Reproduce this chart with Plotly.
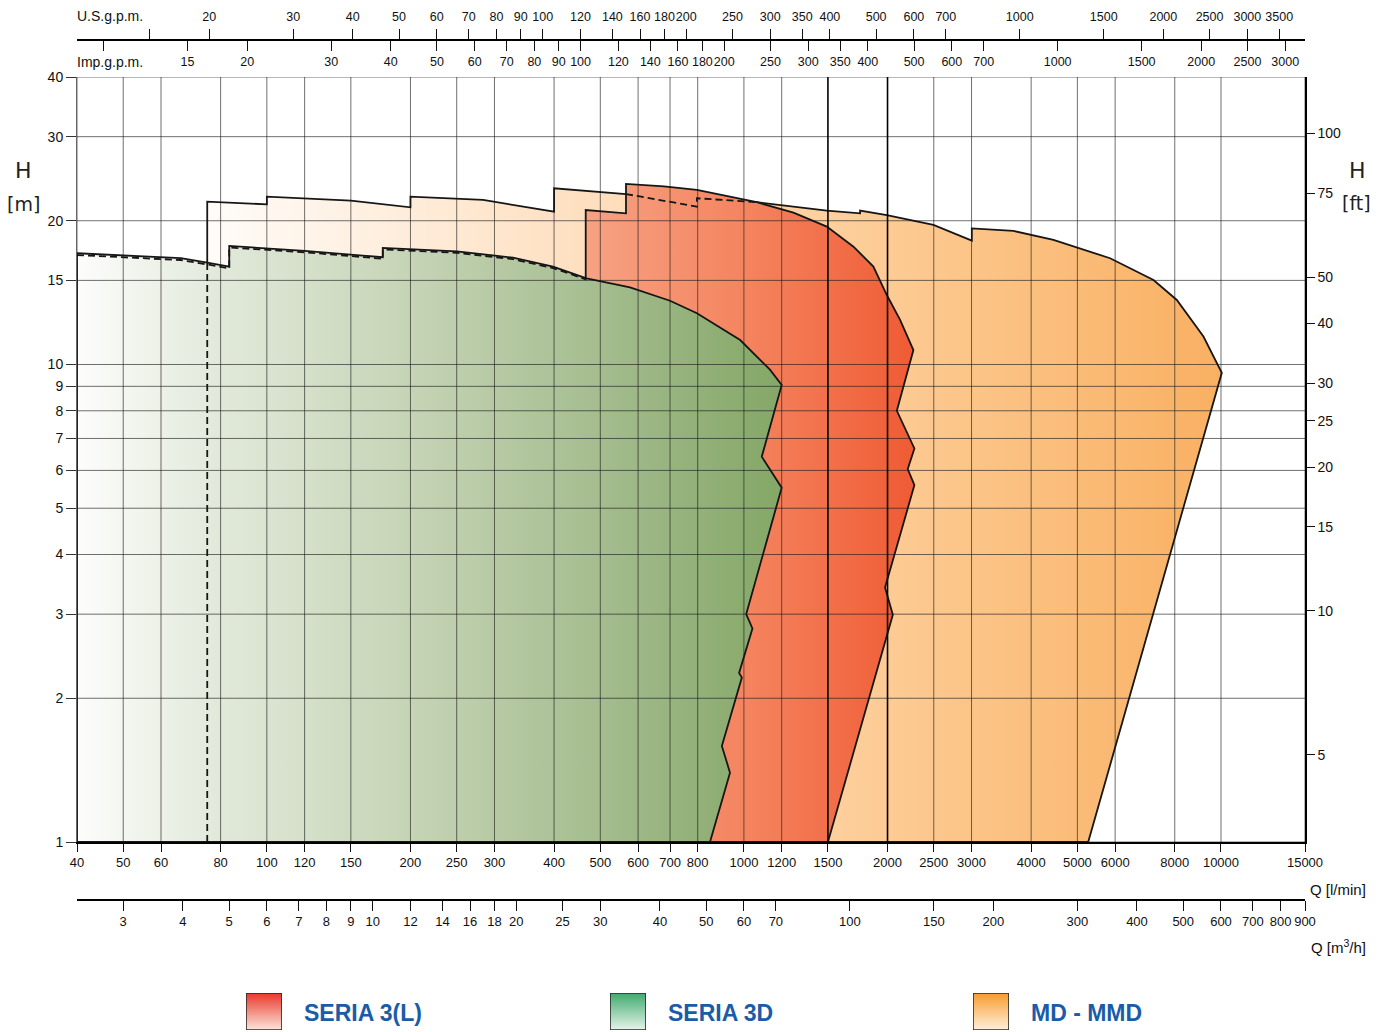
import math
import plotly.graph_objects as go

# ---------------- data ----------------
Q_TICKS = [40, 50, 60, 80, 100, 120, 150, 200, 250, 300, 400, 500, 600, 700, 800,
           1000, 1200, 1500, 2000, 2500, 3000, 4000, 5000, 6000, 8000, 10000, 15000]
M3H_TICKS = [3, 4, 5, 6, 7, 8, 9, 10, 12, 14, 16, 18, 20, 25, 30, 40, 50, 60, 70,
             100, 150, 200, 300, 400, 500, 600, 700, 800, 900]
US_TICKS = [15, 20, 30, 40, 50, 60, 70, 80, 90, 100, 120, 140, 160, 180, 200, 250,
            300, 350, 400, 500, 600, 700, 1000, 1500, 2000, 2500, 3000, 3500]
US_LABELS = [""] + [str(v) for v in US_TICKS[1:]]
IMP_TICKS = [10, 15, 20, 30, 40, 50, 60, 70, 80, 90, 100, 120, 140, 160, 180, 200,
             250, 300, 350, 400, 500, 600, 700, 1000, 1500, 2000, 2500, 3000]
IMP_LABELS = [""] + [str(v) for v in IMP_TICKS[1:]]
H_TICKS = [1, 2, 3, 4, 5, 6, 7, 8, 9, 10, 15, 20, 30, 40]
FT_TICKS = [5, 10, 15, 20, 25, 30, 40, 50, 75, 100]
BOLD_GRID_Q = [1500, 2000]

# MD - MMD envelope (orange)
md_q = [75, 75, 100, 100, 150, 200, 200, 284, 400, 400, 566, 797, 797, 1064, 1492,
        1752, 1752, 1993, 2496, 3004, 3004, 3444, 3673, 4455, 5856, 7220, 8080, 9188,
        10040, 5268, 75]
md_h = [16.34, 21.93, 21.65, 22.46, 22.03, 21.34, 22.46, 22.11, 20.9, 23.39, 22.75,
        21.41, 22.29, 21.87, 21.0, 20.73, 21.0, 20.56, 19.6, 18.17, 19.28, 19.13,
        19.04, 18.23, 16.69, 15.03, 13.65, 11.44, 9.61, 1.0, 1.0]
# hidden part of MD top (dashed, under SERIA 3(L))
md_hidden_q = [566, 797, 797, 1064]
md_hidden_h = [22.75, 21.41, 22.29, 21.87]
md_left_q = [75, 75]
md_left_h = [1.0, 16.34]

# SERIA 3(L) envelope (red)
s3l_q = [466, 466, 566, 566, 680, 797, 1064, 1270, 1492, 1697, 1868, 1993, 2125,
         2266, 2092, 2277, 2205, 2277, 1976, 2052, 1500, 466, 466]
s3l_h = [15.15, 21.06, 20.73, 23.88, 23.6, 23.2, 21.87, 20.8, 19.44, 17.65, 16.03,
         13.98, 12.4, 10.72, 8.0, 6.67, 6.04, 5.59, 3.41, 2.99, 1.0, 1.0, 15.15]

# SERIA 3D envelope (green)
s3d_q = [40, 66, 75, 83.4, 83.4, 120, 175, 175, 250, 328, 398, 468, 577, 700, 797,
         982, 1135, 1200, 1090, 1200, 1011, 1042, 977, 990, 899, 935, 849, 40, 40]
s3d_h = [17.1, 16.7, 16.34, 16.03, 17.71, 17.3, 16.77, 17.54, 17.26, 16.74, 16.03,
         15.15, 14.51, 13.6, 12.8, 11.25, 9.74, 9.06, 6.41, 5.52, 3.0, 2.8, 2.26,
         2.21, 1.589, 1.397, 1.0, 1.0, 17.1]
# dashed curve just under the SERIA 3D top
s3d_dash_q = [40, 66, 75, 83.4, 83.4, 120, 175, 175, 250, 328, 398, 468]
s3d_dash_h = [16.95, 16.55, 16.2, 15.9, 17.58, 17.18, 16.65, 17.42, 17.14, 16.62, 15.92, 15.06]

SERIES = ["SERIA 3(L)", "SERIA 3D", "MD - MMD"]

# unit conversions (l/min per unit)
L_PER_M3H = 1000 / 60
L_PER_USG = 3.78541
L_PER_IMPG = 4.54609
M_PER_FT = 0.3048

Q_MIN, Q_MAX = 40, 15000
H_MIN, H_MAX = 1, 40

# ---------------- layout geometry (page pixels; page body has an 8px margin) ----------------
BODY = 8
W, H = 1387 - BODY, 1032 - BODY
ML = 77 - BODY
MT = 40 - BODY
MR = W - (1305 - BODY)
MB = 0
PW = 1305 - 77
PH = 1032 - 40


def px(x):
    return (x - 77) / PW


def py(y):
    return (1032 - y) / PH


FONT = "Liberation Sans, Arial, sans-serif"
TICKFONT = dict(family=FONT, size=13, color="#111")
TOPFONT = dict(family=FONT, size=12.5, color="#111")
INK = "#161616"

fig = go.Figure()

# envelopes
fig.add_trace(go.Scatter(
    x=md_q, y=md_h, mode="lines", fill="toself",
    fillgradient=dict(type="horizontal",
                      colorscale=[[0, "#fffcf9"], [0.35, "#fee1c3"], [0.62, "#fdcf9c"], [1, "#f9b062"]]),
    line=dict(color=INK, width=1.8), hoverinfo="skip", showlegend=False))
fig.add_trace(go.Scatter(
    x=s3l_q, y=s3l_h, mode="lines", fill="toself",
    fillgradient=dict(type="horizontal",
                      colorscale=[[0, "#f6a283"], [0.5, "#f4835e"], [1, "#ef5b34"]]),
    line=dict(color=INK, width=1.8), hoverinfo="skip", showlegend=False))
fig.add_trace(go.Scatter(
    x=s3d_q, y=s3d_h, mode="lines", fill="toself",
    fillgradient=dict(type="horizontal",
                      colorscale=[[0, "#fdfdfc"], [0.2, "#e2e9da"], [0.5, "#c3d2b2"],
                                  [0.8, "#9db786"], [1, "#84a766"]]),
    line=dict(color=INK, width=1.8), hoverinfo="skip", showlegend=False))

# grid drawn over fills
gx, gy = [], []
for q in Q_TICKS:
    if q in BOLD_GRID_Q:
        continue
    gx += [q, q, None]
    gy += [H_MIN, H_MAX, None]
for h in H_TICKS:
    gx += [Q_MIN, Q_MAX, None]
    gy += [h, h, None]
fig.add_trace(go.Scatter(x=gx, y=gy, mode="lines",
                         line=dict(color="rgba(25,25,25,0.62)", width=1),
                         hoverinfo="skip", showlegend=False))
bx, by = [], []
for q in BOLD_GRID_Q:
    bx += [q, q, None]
    by += [H_MIN, H_MAX, None]
fig.add_trace(go.Scatter(x=bx, y=by, mode="lines", line=dict(color="#000", width=1.6),
                         hoverinfo="skip", showlegend=False))

# dashed curves
for xs, ys in [(s3d_dash_q, s3d_dash_h), (md_hidden_q, md_hidden_h), (md_left_q, md_left_h)]:
    fig.add_trace(go.Scatter(x=xs, y=ys, mode="lines",
                             line=dict(color=INK, width=1.8, dash="7px,4px"),
                             hoverinfo="skip", showlegend=False))

# invisible anchors for secondary axes
fig.add_trace(go.Scatter(x=[Q_MIN / L_PER_M3H, Q_MAX / L_PER_M3H], y=[H_MIN, H_MAX], xaxis="x2", yaxis="y",
                         mode="markers", marker=dict(opacity=0), hoverinfo="skip", showlegend=False))
fig.add_trace(go.Scatter(x=[Q_MIN / L_PER_USG, Q_MAX / L_PER_USG], y=[H_MIN, H_MAX], xaxis="x3", yaxis="y",
                         mode="markers", marker=dict(opacity=0), hoverinfo="skip", showlegend=False))
fig.add_trace(go.Scatter(x=[Q_MIN / L_PER_IMPG, Q_MAX / L_PER_IMPG], y=[H_MIN, H_MAX], xaxis="x4", yaxis="y",
                         mode="markers", marker=dict(opacity=0), hoverinfo="skip", showlegend=False))
fig.add_trace(go.Scatter(x=[Q_MIN, Q_MAX], y=[H_MIN / M_PER_FT, H_MAX / M_PER_FT], xaxis="x", yaxis="y2",
                         mode="markers", marker=dict(opacity=0), hoverinfo="skip", showlegend=False))

# legend swatches (vertical gradients) on small helper axes
SW_COLORS = [
    [[0, "#fde4da"], [1, "#e8382a"]],
    [[0, "#e7f4ea"], [1, "#3faa6c"]],
    [[0, "#fff0dd"], [1, "#f79b2c"]],
]
SW_LEFT = [246, 610, 973]
SW_W = 36
SW_TOP, SW_BOT = 993, 1030
for i, (cs, left) in enumerate(zip(SW_COLORS, SW_LEFT)):
    xa = "x%d" % (5 + i)
    ya = "y%d" % (3 + i)
    fig.add_trace(go.Scatter(x=[0, 1, 1, 0, 0], y=[0, 0, 1, 1, 0], xaxis=xa, yaxis=ya,
                             mode="lines", fill="toself",
                             fillgradient=dict(type="vertical", colorscale=cs),
                             line=dict(color="#2a2a2a", width=1.6),
                             hoverinfo="skip", showlegend=False))
    fig.layout["xaxis%d" % (5 + i)] = dict(domain=[px(left), px(left + SW_W)], range=[0, 1],
                                           visible=False, anchor=ya, fixedrange=True, automargin=False)
    fig.layout["yaxis%d" % (3 + i)] = dict(domain=[py(SW_BOT), py(SW_TOP)], range=[0, 1],
                                           visible=False, anchor=xa, fixedrange=True, automargin=False)
    fig.add_annotation(xref="paper", yref="paper", x=px(left + SW_W + 20), y=py(1013),
                       text="<b>%s</b>" % SERIES[i], showarrow=False, xanchor="left", yanchor="middle",
                       font=dict(family="Liberation Sans, Arial, sans-serif", size=23, color="#1a5ca8"))

lg = math.log10
common = dict(type="log", tickmode="array", tickcolor="#111", tickwidth=1.2,
              showgrid=False, zeroline=False, fixedrange=True, automargin=False, tickangle=0)
fig.update_layout(
    width=W, height=H, autosize=False,
    margin=dict(l=ML, r=MR, t=MT, b=MB, pad=0, autoexpand=False),
    paper_bgcolor="white", plot_bgcolor="white",
    showlegend=False,
    xaxis=dict(common, range=[lg(Q_MIN), lg(Q_MAX)], domain=[0, 1], anchor="y",
               tickvals=Q_TICKS, ticktext=[str(v) for v in Q_TICKS],
               ticks="outside", ticklen=8,
               showline=True, linecolor="#000", linewidth=1.5, tickfont=TICKFONT),
    yaxis=dict(common, range=[lg(H_MIN), lg(H_MAX)], domain=[py(842), py(77)], anchor="x",
               tickvals=H_TICKS, ticktext=[str(v) for v in H_TICKS],
               ticks="outside", ticklen=10, tickcolor="#333",
               showline=True, linecolor="#666", linewidth=1,
               tickfont=dict(family=FONT, size=14, color="#111")),
    xaxis2=dict(common, range=[lg(Q_MIN / L_PER_M3H), lg(Q_MAX / L_PER_M3H)], overlaying="x",
                anchor="free", position=py(900), side="bottom",
                tickvals=M3H_TICKS, ticktext=[str(v) for v in M3H_TICKS],
                ticks="outside", ticklen=10,
                showline=True, linecolor="#000", linewidth=1.5, tickfont=TICKFONT),
    xaxis3=dict(common, range=[lg(Q_MIN / L_PER_USG), lg(Q_MAX / L_PER_USG)], overlaying="x",
                anchor="free", position=1, side="top",
                tickvals=US_TICKS, ticktext=US_LABELS,
                ticks="outside", ticklen=10, ticklabelstandoff=3,
                showline=True, linecolor="#000", linewidth=1.5, tickfont=TOPFONT),
    xaxis4=dict(common, range=[lg(Q_MIN / L_PER_IMPG), lg(Q_MAX / L_PER_IMPG)], overlaying="x",
                anchor="free", position=1, side="bottom",
                tickvals=IMP_TICKS, ticktext=IMP_LABELS,
                ticks="outside", ticklen=10,
                showline=True, linecolor="#000", linewidth=1.5, tickfont=TOPFONT),
    yaxis2=dict(common, range=[lg(H_MIN / M_PER_FT), lg(H_MAX / M_PER_FT)], overlaying="y",
                anchor="x", side="right",
                tickvals=FT_TICKS, ticktext=[str(v) for v in FT_TICKS],
                ticks="outside", ticklen=8,
                showline=True, linecolor="#000", linewidth=1.5,
                tickfont=dict(family=FONT, size=14, color="#111")),
)

LABF = dict(family=FONT, size=14, color="#111")
QF = dict(family=FONT, size=15, color="#111")
BIGF = dict(family="DejaVu Sans, sans-serif", size=22, color="#222")
MIDF = dict(family="DejaVu Sans, sans-serif", size=19, color="#222")
for text, x, y, font, anchor in [
    ("U.S.g.p.m.", 75, 16, LABF, "left"),
    ("Imp.g.p.m.", 75, 62, LABF, "left"),
    ("Q [l/min]", 1368, 889, QF, "right"),
    ("Q [m<sup>3</sup>/h]", 1368, 946, QF, "right"),
    ("H", 23, 170, BIGF, "center"),
    ("[m]", 23, 204, MIDF, "center"),
    ("H", 1357, 170, BIGF, "center"),
    ("[ft]", 1356, 203, MIDF, "center"),
]:
    fig.add_annotation(xref="paper", yref="paper", x=px(x), y=py(y), text=text, showarrow=False,
                       xanchor=anchor, yanchor="middle", font=font)

fig.write_html("out.html")
